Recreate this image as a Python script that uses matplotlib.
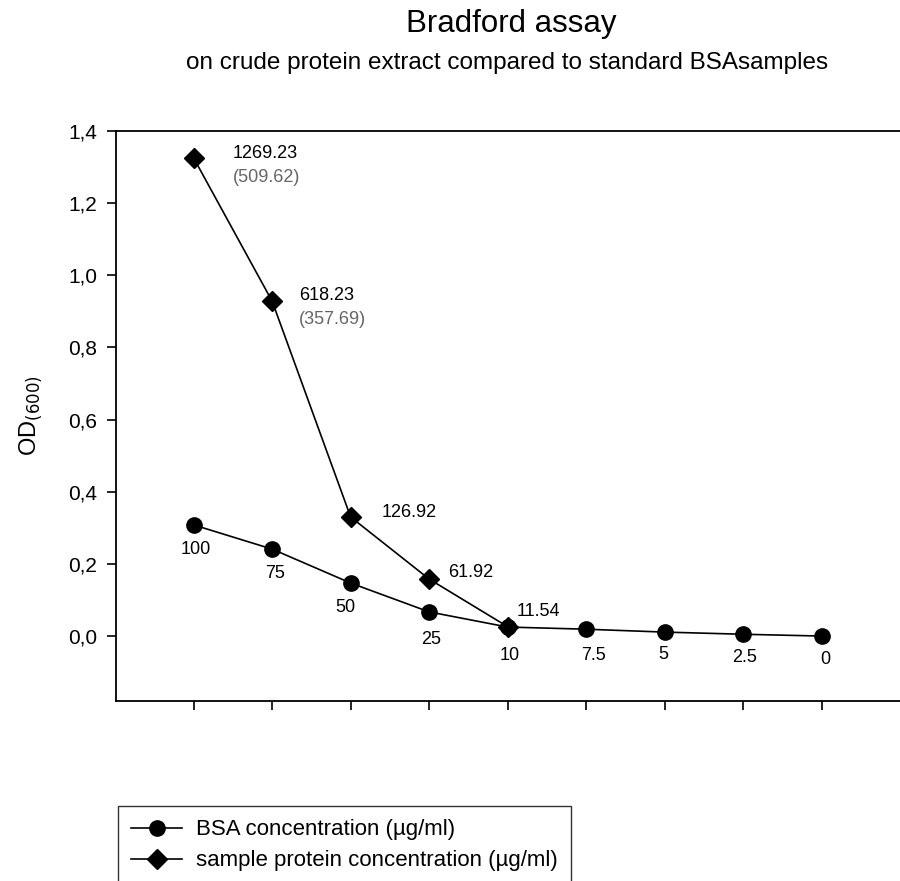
import matplotlib.pyplot as plt
import numpy as np

# BSA standard series and crude extract series (OD 600)
bsa_labels = ["100", "75", "50", "25", "10", "7.5", "5", "2.5", "0"]
bsa_od = [0.308, 0.241, 0.147, 0.067, 0.025, 0.019, 0.011, 0.005, 0.0]

sample_labels = ["1269.23", "618.23", "126.92", "61.92", "11.54"]
sample_sub = ["(509.62)", "(357.69)", "", "", ""]
sample_od = [1.325, 0.928, 0.330, 0.158, 0.026]

yticks = [0.0, 0.2, 0.4, 0.6, 0.8, 1.0, 1.2, 1.4]

plt.rcParams['font.family'] = ['Liberation Sans', 'DejaVu Sans']

fig = plt.figure(figsize=(9, 8.81), dpi=100)
ax = fig.add_axes([116 / 900, 1 - 701 / 881, 1 - 116 / 900, (701 - 131) / 881])

x_bsa = np.arange(1, len(bsa_od) + 1)
x_sample = np.arange(1, len(sample_od) + 1)

ax.plot(x_bsa, bsa_od, '-o', color='black', lw=1.2, ms=11,
        label='BSA concentration (µg/ml)', zorder=3)
ax.plot(x_sample, sample_od, '-D', color='black', lw=1.2, ms=10,
        label='sample protein concentration (µg/ml)', zorder=4)

# offsets in pixels for BSA labels (below points)
bsa_off = [(2, -25), (3, -24), (-5, -24), (2, -28), (2, -28), (7, -26), (-1, -22), (2, -23), (4, -23)]
for xi, yi, lab, off in zip(x_bsa, bsa_od, bsa_labels, bsa_off):
    ax.annotate(lab, (xi, yi), xytext=off, textcoords='offset pixels',
                ha='center', va='center', fontsize=13)

sample_off = [(39, 5), (27, 6), (31, 5), (19, 7), (9, 15)]
for xi, yi, lab, sub, off in zip(x_sample, sample_od, sample_labels, sample_sub, sample_off):
    ax.annotate(lab, (xi, yi), xytext=off, textcoords='offset pixels',
                ha='left', va='center', fontsize=13)
    if sub:
        ax.annotate(sub, (xi, yi), xytext=(off[0], off[1] - 24), textcoords='offset pixels',
                    ha='left', va='center', fontsize=13, color='#666666')

ax.set_xlim(0.01, 10)
ax.set_ylim(-0.18, 1.4)
ax.set_xticks(x_bsa)
ax.set_xticklabels([])
ax.set_yticks(yticks)
ax.set_yticklabels([f"{v:.1f}".replace('.', ',') for v in yticks], fontsize=15)
ax.tick_params(direction='out', length=6.5, width=1.2, color='black', pad=7)
ax.spines['right'].set_visible(False)
for s in ['left', 'top', 'bottom']:
    ax.spines[s].set_linewidth(1.3)

ax.set_ylabel('OD$_{(600)}$', fontsize=17)
ax.yaxis.set_label_coords(-0.092, 0.5)

fig.text(0.568, 0.973, 'Bradford assay', ha='center', va='center', fontsize=22.5)
fig.text(0.563, 0.929, 'on crude protein extract compared to standard BSAsamples',
         ha='center', va='center', fontsize=17.5)

leg = fig.legend(loc='upper left', bbox_to_anchor=(118 / 900, 1 - 806 / 881),
                 borderaxespad=0, fontsize=16, frameon=True, fancybox=False,
                 edgecolor='black', borderpad=0.6, handlelength=2.3,
                 handletextpad=0.6, labelspacing=0.45)
leg.get_frame().set_linewidth(1.0)

fig.savefig('out.png', dpi=100)
